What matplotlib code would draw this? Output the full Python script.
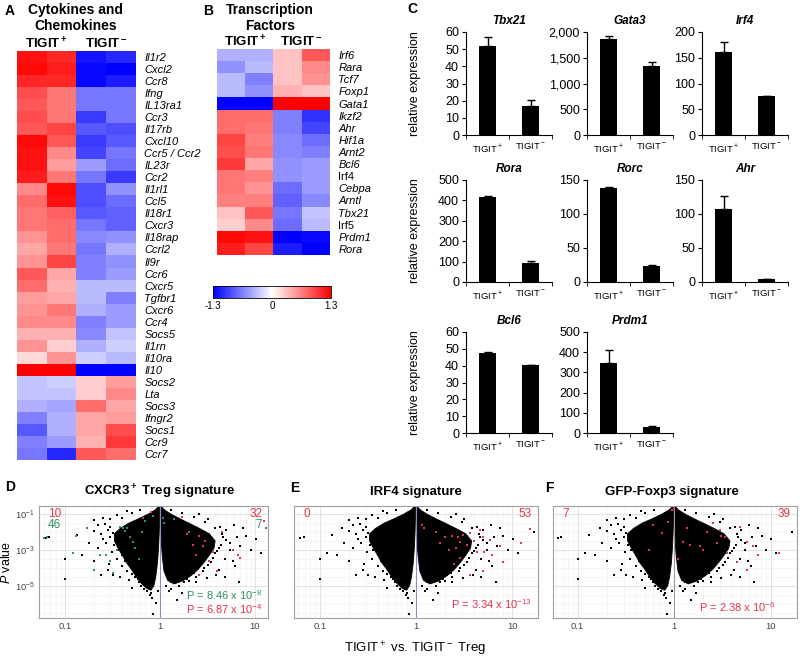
import numpy as np
import matplotlib
matplotlib.use('Agg')
import matplotlib.pyplot as plt
from matplotlib.colors import LinearSegmentedColormap
from matplotlib.ticker import FixedLocator, NullFormatter

plt.rcParams['font.family'] = ['Liberation Sans', 'DejaVu Sans']
plt.rcParams['mathtext.fontset'] = 'custom'
plt.rcParams['mathtext.rm'] = 'Liberation Sans'
plt.rcParams['mathtext.it'] = 'Liberation Sans:italic'
plt.rcParams['mathtext.bf'] = 'Liberation Sans:bold'
plt.rcParams['mathtext.default'] = 'regular'

W, H = 800, 658

# ---------------- data ----------------
# A: cytokines / chemokines, columns = TIGIT+ x2, TIGIT- x2 (z-score)
genes_a = ['Il1r2', 'Cxcl2', 'Ccr8', 'Ifng', 'IL13ra1', 'Ccr3', 'Il17rb', 'Cxcl10',
           'Ccr5 / Ccr2', 'IL23r', 'Ccr2', 'Il1rl1', 'Ccl5', 'Il18r1', 'Cxcr3',
           'Il18rap', 'Ccrl2', 'Il9r', 'Ccr6', 'Cxcr5', 'Tgfbr1', 'Cxcr6', 'Ccr4',
           'Socs5', 'Il1rn', 'Il10ra', 'Il10', 'Socs2', 'Lta', 'Socs3', 'Ifngr2',
           'Socs1', 'Ccr9', 'Ccr7']
heat_a = [[1.2, 1.1, -1.2, -1.1], [1.25, 1.15, -1.25, -1.3], [1.1, 1.1, -1.25, -1.15],
          [0.9, 0.7, -0.7, -0.7], [0.85, 0.7, -0.7, -0.7], [0.9, 0.7, -1.0, -0.7],
          [0.85, 0.95, -0.85, -0.9], [1.25, 0.85, -1.0, -0.85], [1.2, 0.6, -0.95, -0.7],
          [1.2, 0.5, -0.5, -0.75], [1.15, 0.7, -0.7, -1.0], [0.6, 1.25, -0.9, -0.55],
          [0.75, 1.2, -0.9, -0.75], [0.7, 0.8, -0.85, -0.8], [0.7, 0.75, -0.7, -0.8],
          [0.55, 0.75, -0.6, -0.55], [0.45, 0.7, -0.7, -0.4], [0.55, 0.95, -0.65, -0.55],
          [0.85, 0.45, -0.65, -0.5], [0.75, 0.4, -0.35, -0.35], [0.5, 0.45, -0.35, -0.65],
          [0.55, 0.7, -0.4, -0.5], [0.6, 0.6, -0.65, -0.5], [0.4, 0.4, -0.6, -0.3],
          [0.55, 0.25, -0.4, -0.25], [0.2, 0.55, -0.25, -0.35], [1.3, 1.3, -1.3, -1.3],
          [-0.3, -0.25, 0.25, 0.5], [-0.3, -0.3, 0.25, 0.6], [-0.4, -0.45, 0.75, 0.45],
          [-0.65, -0.4, 0.45, 0.5], [-0.85, -0.4, 0.45, 0.9], [-0.65, -0.5, 0.4, 1.0],
          [-0.7, -1.1, 0.85, 0.75]]

# B: transcription factors
genes_b = ['Irf6', 'Rara', 'Tcf7', 'Foxp1', 'Gata1', 'Ikzf2', 'Ahr', 'Hif1a', 'Arnt2',
           'Bcl6', 'Irf4', 'Cebpa', 'Arntl', 'Tbx21', 'Irf5', 'Prdm1', 'Rora']
heat_b = [[-0.4, -0.4, 0.3, 0.85], [-0.55, -0.35, 0.3, 0.6], [-0.35, -0.65, 0.3, 0.55],
          [-0.35, -0.55, 0.4, 0.3], [-1.3, -1.3, 1.3, 1.3], [0.75, 0.75, -0.65, -1.05],
          [0.75, 0.7, -0.65, -0.95], [0.95, 0.65, -0.6, -0.75], [0.9, 0.7, -0.6, -0.65],
          [1.0, 0.45, -0.55, -0.5], [0.7, 0.65, -0.55, -0.5], [0.7, 0.55, -0.75, -0.5],
          [0.65, 0.65, -0.8, -0.6], [0.3, 0.85, -0.7, -0.3], [0.25, 0.6, -0.75, -0.35],
          [1.25, 1.2, -1.3, -1.25], [1.15, 0.95, -1.15, -1.3]]
upright_b = ('Irf4', 'Irf5')

# C: qPCR, TIGIT+ / TIGIT-
bar_genes = ['Tbx21', 'Gata3', 'Irf4', 'Rora', 'Rorc', 'Ahr', 'Bcl6', 'Prdm1']
bar_means = [[52, 17], [1870, 1340], [162, 75], [415, 95], [138, 23], [107, 4], [47.5, 40.5], [345, 32]]
bar_errs = [[5, 3.5], [50, 70], [18, 1], [5, 8], [1, 2.5], [19, 1], [0.7, 0], [65, 4]]
bar_ymax = [60, 2000, 200, 500, 150, 150, 60, 500]
bar_ystep = [10, 500, 50, 100, 50, 50, 10, 100]

# D-F: shared background genes (fold change, log10 P)
bg_fc = [0.063, 0.068, 0.1, 0.1, 0.12, 0.133, 0.17, 0.24, 0.24, 0.32, 0.47, 0.5, 0.63, 0.73,
         0.91, 0.85, 1.3, 1.5, 1.78, 2.4, 3.1, 3.9, 8.1, 10.2, 11.5, 16.8,
         0.2, 0.26, 0.28, 0.3, 0.27, 0.22, 0.31, 0.35, 0.29, 0.4, 0.45, 0.38, 0.55, 0.6,
         0.3, 0.35, 0.45, 4.3, 5.0, 4.6, 5.5, 4.2, 3.8, 4.8, 3.4, 2.9, 4.2, 2.3, 1.9,
         1.3, 6.0, 3.2, 2.6, 7.0, 6.2, 1.15, 0.95, 0.8,
         0.25, 0.22, 0.3, 0.32, 0.25, 0.33, 0.36, 0.4, 0.43, 0.47, 0.52, 0.5, 0.58, 0.65,
         0.68, 0.7, 0.78, 0.82, 0.4, 0.5, 0.62, 0.18, 0.15, 0.2, 0.28, 0.2,
         1.3, 1.7, 2.3, 3.0, 3.8, 4.5, 5.0, 4.4, 4.0, 3.6, 3.2, 2.8, 2.4, 2.0, 1.6, 1.25,
         1.7, 5.5, 6.5, 7.5, 5.8, 4.8, 9.0, 6.8]
bg_logp = [-2.33, -2.28, -3.5, -4.6, -3.17, -2.17, -1.78, -2.1, -4.4, -4.4, -4.7, -5.1, -5.0, -5.3,
           -5.94, -6.56, -5.2, -5.8, -4.8, -4.8, -4.55, -4.4, -2.2, -2.4, -3.2, -2.0,
           -1.35, -1.55, -1.9, -2.3, -2.6, -2.9, -3.1, -3.5, -3.8, -3.9, -4.2, -4.5, -4.5, -4.8,
           -1.25, -1.05, -0.85, -1.7, -1.9, -2.3, -2.6, -2.9, -3.2, -3.5, -3.7, -4.0, -4.1, -4.3, -4.6,
           -4.8, -1.6, -1.3, -1.0, -2.8, -3.9, -5.0, -5.3, -5.4,
           -1.2, -1.6, -1.7, -2.05, -2.4, -2.7, -3.0, -3.3, -3.6, -3.8, -4.1, -4.35, -4.6, -4.85,
           -5.2, -4.7, -5.5, -5.7, -1.2, -0.95, -0.8, -2.6, -3.3, -3.6, -4.1, -1.95,
           -0.75, -0.95, -1.15, -1.45, -1.75, -2.1, -2.45, -2.75, -3.05, -3.45, -3.85, -4.2, -4.5,
           -4.75, -5.0, -5.3, -5.4, -3.0, -2.3, -1.8, -3.6, -4.5, -3.0, -4.8]
# dense cloud outline, fold change < 1 and > 1
cloud_l_fc = [0.99, 0.9, 0.75, 0.6, 0.47, 0.38, 0.33, 0.33, 0.36, 0.4, 0.44, 0.5, 0.56,
              0.63, 0.72, 0.8, 0.86, 0.9, 0.94, 0.965, 0.98, 0.988]
cloud_l_logp = [-0.5, -0.75, -1.0, -1.25, -1.5, -1.8, -2.1, -2.5, -2.9, -3.3, -3.7, -4.1, -4.5,
                -4.85, -5.15, -5.25, -5.0, -4.5, -3.7, -2.8, -2.0, -1.3]
cloud_r_fc = [1.01, 1.1, 1.3, 1.6, 2.0, 2.6, 3.3, 3.8, 3.7, 3.3, 2.9, 2.5, 2.1, 1.7,
              1.4, 1.2, 1.1, 1.055, 1.03, 1.015, 1.01]
cloud_r_logp = [-0.5, -0.75, -1.0, -1.25, -1.5, -1.8, -2.1, -2.5, -2.9, -3.3, -3.7, -4.1, -4.45, -4.75,
                -4.9, -4.7, -4.2, -3.4, -2.6, -1.8, -1.2]

# D signature genes
d_green_fc = [0.06, 0.065, 0.13, 0.17, 0.12, 0.23, 0.27, 0.32, 0.38, 0.41, 0.45, 0.43, 0.52, 0.48,
              0.55, 0.6, 0.35, 0.7, 1.07, 1.1, 0.85, 0.3, 0.2, 0.65, 1.4, 2.0, 13.0]
d_green_logp = [-2.33, -2.28, -2.2, -1.8, -3.2, -3.3, -3.3, -4.3, -1.7, -1.75, -1.8, -1.95, -2.55, -2.3,
                -2.9, -3.5, -3.0, -1.4, -1.2, -1.5, -1.1, -3.6, -4.1, -2.0, -1.3, -2.0, -1.75]
d_red_fc = [2.6, 2.2, 2.85, 3.0, 3.6, 5.9, 6.6, 7.0, 4.0, 2.6, 1.7, 0.66, 2.4, 3.3, 1.9, 4.5, 0.8, 12.5]
d_red_logp = [-2.2, -2.7, -2.8, -2.5, -3.1, -3.0, -3.3, -3.45, -4.2, -4.4, -1.15, -1.2, -3.3, -3.6,
              -2.1, -2.0, -0.9, -1.4]
# E signature genes
e_red_fc = [1.15, 1.2, 2.0, 2.37, 2.74, 2.9, 3.1, 3.65, 5.0, 5.9, 4.3, 5.1, 6.2, 2.9, 15.4, 5.0,
            3.65, 2.6, 2.2, 3.4, 4.0, 1.6, 1.8, 7.5, 4.6, 2.5, 8.0, 12.5]
e_red_logp = [-1.6, -1.75, -2.3, -2.2, -2.3, -2.55, -2.15, -2.05, -2.3, -2.45, -3.1, -3.1, -3.3, -3.45,
              -1.83, -4.2, -4.4, -2.9, -3.0, -2.7, -2.5, -2.0, -2.6, -2.8, -1.9, -3.8, -3.7, -2.6]
# F signature genes
f_red_fc = [0.87, 1.36, 0.75, 1.24, 1.46, 1.86, 2.54, 3.1, 3.4, 4.8, 5.7, 6.6, 12.1, 3.55, 4.5,
            5.7, 1.0, 0.95, 2.2, 2.8, 0.6, 0.55, 1.1, 3.0, 7.5, 2.0]
f_red_logp = [-1.45, -1.8, -2.05, -2.55, -2.7, -2.8, -1.5, -2.2, -2.3, -1.7, -2.55, -2.8, -3.2, -3.15,
              -3.65, -4.1, -0.67, -0.8, -2.0, -2.6, -1.6, -3.0, -3.5, -1.9, -3.3, -3.0]

RED = '#e3354d'
GREEN = '#2f9462'

hm_cmap = LinearSegmentedColormap.from_list('bwr_hm', ['#0000ff', '#ffffff', '#ff0000'])


def px_axes(fig, x0, y0, x1, y1):
    """axes from pixel box (left, top, right, bottom)"""
    return fig.add_axes([x0 / W, 1 - y1 / H, (x1 - x0) / W, (y1 - y0) / H])


def fig_text(fig, x, y, s, **kw):
    return fig.text(x / W, 1 - y / H, s, **kw)


def draw_heatmap(fig, box, values, genes, upright=()):
    ax = px_axes(fig, *box)
    im = ax.imshow(np.array(values), cmap=hm_cmap, vmin=-1.3, vmax=1.3,
                   aspect='auto', interpolation='nearest')
    ax.set_xticks([])
    ax.yaxis.tick_right()
    ax.set_yticks(range(len(genes)))
    ax.set_yticklabels(genes, fontsize=8)
    for lab in ax.get_yticklabels():
        if lab.get_text() not in upright:
            lab.set_style('italic')
    ax.tick_params(axis='y', length=0, pad=6)
    for s in ax.spines.values():
        s.set_visible(False)
    # column headers
    x0, y0, x1 = box[0], box[1], box[2]
    fig_text(fig, x0 + (x1 - x0) * 0.25, y0 - 7, r'$\mathbf{TIGIT^+}$',
             ha='center', va='center', fontsize=9.5)
    fig_text(fig, x0 + (x1 - x0) * 0.75, y0 - 7, r'$\mathbf{TIGIT^-}$',
             ha='center', va='center', fontsize=9.5)
    return im


def draw_bars(fig, box, gene, vals, errs, ymax, ystep, ylabel=False):
    ax = px_axes(fig, *box)
    ax.bar([0, 1], vals, width=0.38, color='black', zorder=2,
           yerr=[[0, 0], errs], error_kw=dict(ecolor='black', elinewidth=1, capsize=3, capthick=1))
    ax.set_xlim(-0.5, 1.5)
    ax.set_ylim(0, ymax)
    ticks = np.arange(0, ymax + ystep / 2, ystep)
    ax.set_yticks(ticks)
    if ymax >= 1000:
        ax.set_yticklabels([f'{int(v):,}' for v in ticks])
    ax.set_xticks([0, 1])
    ax.set_xticklabels([r'TIGIT$^+$', r'TIGIT$^-$'], fontsize=6.8)
    ax.xaxis.set_minor_locator(FixedLocator([-0.5, 0.5, 1.5]))
    ax.tick_params(axis='x', which='major', length=0, pad=5)
    ax.tick_params(axis='x', which='minor', length=3, direction='out')
    ax.tick_params(axis='y', labelsize=9, length=3, direction='out', pad=2)
    ax.spines['top'].set_visible(False)
    ax.spines['right'].set_visible(False)
    ax.set_title(gene, fontsize=8.5, fontweight='bold', style='italic', pad=6)
    if ylabel:
        ax.set_ylabel('relative expression', fontsize=9)
        ax.yaxis.set_label_coords(-0.52, 0.5)


def draw_volcano(fig, box, xlim, show_y=False, line_color='#8c8cc8'):
    ax = px_axes(fig, *box)
    ax.set_xscale('log')
    ax.set_yscale('log')
    ax.set_xlim(*xlim)
    ax.set_ylim(10 ** -6.8, 10 ** -0.55)
    ax.set_xticks([0.1, 1, 10])
    ax.set_xticklabels(['0.1', '1', '10'])
    ax.xaxis.set_minor_locator(FixedLocator([m * d for d in (0.01, 0.1, 1, 10) for m in range(2, 10)]))
    ax.xaxis.set_minor_formatter(NullFormatter())
    ax.set_yticks([1e-1, 1e-3, 1e-5])
    ax.yaxis.set_minor_locator(FixedLocator([10 ** (k / 2) for k in range(-14, 0)]))
    ax.yaxis.set_minor_formatter(NullFormatter())
    if show_y:
        ax.set_yticklabels([r'$10^{-1}$', r'$10^{-3}$', r'$10^{-5}$'])
    else:
        ax.set_yticklabels([])
    ax.tick_params(which='both', length=0, labelsize=6.8, labelcolor='#444444', pad=3)
    ax.grid(which='major', color='#dddddd', lw=0.6, zorder=0)
    ax.grid(which='minor', color='#eeeeee', lw=0.4, zorder=0)
    for s in ax.spines.values():
        s.set_color('#a0a0a0')
        s.set_linewidth(0.8)
    ax.fill(cloud_l_fc, 10 ** np.array(cloud_l_logp), color='black', lw=0.6, zorder=2)
    ax.fill(cloud_r_fc, 10 ** np.array(cloud_r_logp), color='black', lw=0.6, zorder=2)
    ax.scatter(bg_fc, 10 ** np.array(bg_logp), s=2.5, c='black', marker='s', lw=0, zorder=3)
    ax.axvline(1, color=line_color, lw=0.8, zorder=4)
    return ax


fig = plt.figure(figsize=(8, 6.58), dpi=100)

# ---- A ----
im = draw_heatmap(fig, (17, 51, 136, 460), heat_a, genes_a)
fig_text(fig, 5, 11, 'A', fontsize=10, fontweight='bold', va='center')
fig_text(fig, 76, 18, 'Cytokines and\nChemokines', fontsize=10, fontweight='bold',
         ha='center', va='center', linespacing=1.2)

# ---- B ----
draw_heatmap(fig, (217, 49, 330, 255), heat_b, genes_b, upright=upright_b)
fig_text(fig, 203, 11, 'B', fontsize=10, fontweight='bold', va='center')
fig_text(fig, 270, 18, 'Transcription\nFactors', fontsize=10, fontweight='bold',
         ha='center', va='center', linespacing=1.2)
cax = px_axes(fig, 213, 286, 331, 298)
cb = fig.colorbar(im, cax=cax, orientation='horizontal', ticks=[-1.3, 0, 1.3])
cb.ax.set_xticklabels(['-1.3', '0', '1.3'])
cb.ax.tick_params(labelsize=7, length=0, pad=2)
cb.outline.set_linewidth(0.6)

# ---- C ----
fig_text(fig, 407, 9, 'C', fontsize=10, fontweight='bold', va='center')
col_x = [466, 587, 702]
row_y = [(32, 135), (180, 282), (332, 433)]
for i, gene in enumerate(bar_genes):
    r, c = divmod(i, 3)
    x0 = col_x[c]
    y0, y1 = row_y[r]
    draw_bars(fig, (x0, y0, x0 + 86, y1), gene, bar_means[i], bar_errs[i],
              bar_ymax[i], bar_ystep[i], ylabel=(c == 0))

# ---- D, E, F ----
ax_d = draw_volcano(fig, (39, 506, 268, 618), (0.053, 13.7), show_y=True)
ax_d.scatter(d_green_fc, 10 ** np.array(d_green_logp), s=3, c=GREEN, marker='s', lw=0, zorder=5)
ax_d.scatter(d_red_fc, 10 ** np.array(d_red_logp), s=3, c=RED, marker='s', lw=0, zorder=5)
ax_d.text(0.04, 0.93, '10', color=RED, fontsize=8.5, transform=ax_d.transAxes, va='center')
ax_d.text(0.04, 0.83, '46', color=GREEN, fontsize=8.5, transform=ax_d.transAxes, va='center')
ax_d.text(0.975, 0.93, '32', color=RED, fontsize=8.5, transform=ax_d.transAxes, va='center', ha='right')
ax_d.text(0.975, 0.83, '7', color=GREEN, fontsize=8.5, transform=ax_d.transAxes, va='center', ha='right')
ax_d.text(0.975, 0.2, r'P = 8.46 x 10$^{-8}$', color=GREEN, fontsize=8, transform=ax_d.transAxes,
          va='center', ha='right')
ax_d.text(0.975, 0.075, r'P = 6.87 x 10$^{-4}$', color=RED, fontsize=8, transform=ax_d.transAxes,
          va='center', ha='right')

ax_e = draw_volcano(fig, (294, 506, 538, 618), (0.054, 18.6))
ax_e.scatter(e_red_fc, 10 ** np.array(e_red_logp), s=3, c=RED, marker='s', lw=0, zorder=5)
ax_e.text(0.04, 0.93, '0', color=RED, fontsize=8.5, transform=ax_e.transAxes, va='center')
ax_e.text(0.975, 0.93, '53', color=RED, fontsize=8.5, transform=ax_e.transAxes, va='center', ha='right')
ax_e.text(0.975, 0.12, r'P = 3.34 x 10$^{-13}$', color=RED, fontsize=8, transform=ax_e.transAxes,
          va='center', ha='right')

ax_f = draw_volcano(fig, (553, 506, 797, 618), (0.0557, 18.8), line_color='#999999')
ax_f.scatter(f_red_fc, 10 ** np.array(f_red_logp), s=3, c=RED, marker='s', lw=0, zorder=5)
ax_f.text(0.04, 0.93, '7', color=RED, fontsize=8.5, transform=ax_f.transAxes, va='center')
ax_f.text(0.975, 0.93, '39', color=RED, fontsize=8.5, transform=ax_f.transAxes, va='center', ha='right')
ax_f.text(0.91, 0.1, r'P = 2.38 x 10$^{-6}$', color=RED, fontsize=8, transform=ax_f.transAxes,
          va='center', ha='right')

fig_text(fig, 5, 487, 'D', fontsize=10, fontweight='bold', va='center')
fig_text(fig, 290, 488, 'E', fontsize=10, fontweight='bold', va='center')
fig_text(fig, 545, 488, 'F', fontsize=10, fontweight='bold', va='center')
fig_text(fig, 160, 492, r'$\mathbf{CXCR3^+}$ Treg signature', fontsize=9.5, fontweight='bold',
         ha='center', va='center')
fig_text(fig, 416, 492, 'IRF4 signature', fontsize=9.5, fontweight='bold', ha='center', va='center')
fig_text(fig, 672, 492, 'GFP-Foxp3 signature', fontsize=9.5, fontweight='bold', ha='center', va='center')
fig_text(fig, 7, 562, r'$\mathit{P}$ value', fontsize=9, rotation=90, ha='center', va='center')
fig_text(fig, 415, 649, r'TIGIT$^+$ vs. TIGIT$^-$ Treg', fontsize=9.5, ha='center', va='center')

fig.savefig('out.png', dpi=100)
